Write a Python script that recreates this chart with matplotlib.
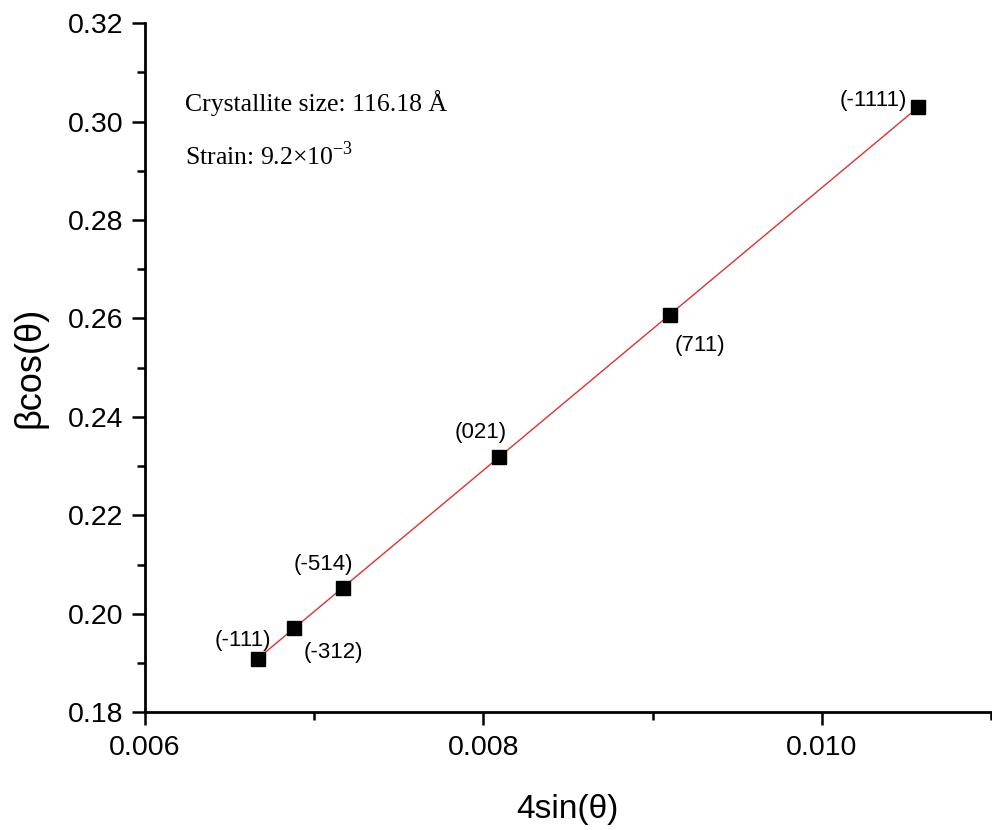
import numpy as np
import matplotlib
matplotlib.use('Agg')
import matplotlib.pyplot as plt
from matplotlib.ticker import MultipleLocator

# Williamson-Hall data
planes = ['(-111)', '(-312)', '(-514)', '(021)', '(711)', '(-1111)']
four_sin = [0.006668, 0.006883, 0.007171, 0.008091, 0.009101, 0.010568]
beta_cos = [0.1909, 0.1971, 0.2053, 0.2318, 0.2607, 0.3029]
# label offsets in points (text centre relative to point)
offsets = [(-11, 13), (28, -18), (-14, 17), (-13, 18), (22, -22), (-32, 5)]

size_text = 'Crystallite size: 116.18 Å'
strain_text = 'Strain: 9.2×10$^{\\mathregular{-3}}$'

plt.rcParams['font.family'] = ['Liberation Sans', 'DejaVu Sans']

fig = plt.figure(figsize=(9.92, 8.3), dpi=100)
ax = fig.add_axes([0.146, 0.142, 0.853, 0.830])

# linear fit
k, b = np.polyfit(four_sin, beta_cos, 1)
xf = np.array([min(four_sin), max(four_sin)])
ax.plot(xf, k*xf + b, color='#e03030', lw=1.0, zorder=2)
ax.plot(four_sin, beta_cos, 's', color='black', ms=10, zorder=3)

for lab, x, y, off in zip(planes, four_sin, beta_cos, offsets):
    ax.annotate(lab, (x, y), xytext=off, textcoords='offset points',
                ha='center', va='center', fontsize=16)

serif = ['Liberation Serif', 'DejaVu Serif']
ax.text(0.047, 0.884, size_text, transform=ax.transAxes, fontsize=18.5,
        family=serif, va='center')
ax.text(0.047, 0.808, strain_text, transform=ax.transAxes, fontsize=18.5,
        family=serif, va='center')

ax.set_xlim(0.006, 0.011)
ax.set_ylim(0.18, 0.32)
ax.xaxis.set_major_locator(MultipleLocator(0.002))
ax.xaxis.set_minor_locator(MultipleLocator(0.001))
ax.yaxis.set_major_locator(MultipleLocator(0.02))
ax.yaxis.set_minor_locator(MultipleLocator(0.01))
ax.xaxis.set_major_formatter(plt.FuncFormatter(lambda v, p: f'{v:.3f}'))
ax.yaxis.set_major_formatter(plt.FuncFormatter(lambda v, p: f'{v:.2f}'))

for s in ['top', 'right']:
    ax.spines[s].set_visible(False)
for s in ['left', 'bottom']:
    ax.spines[s].set_linewidth(2)
ax.tick_params(which='major', length=9.4, width=1.8, labelsize=20.5, direction='out')
ax.tick_params(axis='y', which='major', pad=6)
ax.tick_params(axis='x', which='major', pad=7)
ax.tick_params(which='minor', length=6, width=1.8, direction='out')

ax.set_xlabel('4sin(θ)', fontsize=24, va='center')
ax.set_ylabel('βcos(θ)', fontsize=26, va='center')
ax.xaxis.set_label_coords(0.5, -0.142)
ax.yaxis.set_label_coords(-0.136, 0.5)

fig.savefig('out.png', dpi=100)
